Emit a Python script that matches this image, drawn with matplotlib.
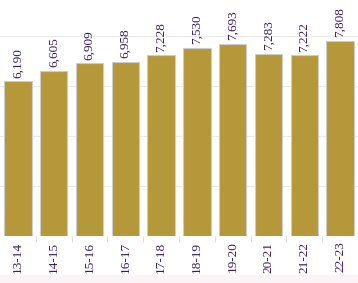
import matplotlib.pyplot as plt
from matplotlib.patches import Rectangle

# Data
seasons = ["13-14", "14-15", "15-16", "16-17", "17-18",
           "18-19", "19-20", "20-21", "21-22", "22-23"]
values = [6190, 6605, 6909, 6958, 7228, 7530, 7693, 7283, 7222, 7808]

bar_color = "#b5983a"
text_color = "#3b1a6b"

fig = plt.figure(figsize=(3.58, 2.83), dpi=100)
fig.add_artist(Rectangle((0, 0), 1, 8 / 283, transform=fig.transFigure,
                         color="#fbf4f7", zorder=0))
ax = fig.add_axes([0, 1 - 236 / 283, 1, 236 / 283])

x = list(range(len(seasons)))
ax.bar(x, values, width=0.76, color=bar_color, edgecolor="#cccccc",
       linewidth=0.8, zorder=2)

for xi, v in zip(x, values):
    ax.text(xi, v + 150, f"{v:,}", rotation=90, ha="center", va="bottom",
            color=text_color, fontsize=9.5, family="Liberation Serif")

ax.set_xlim(-0.5, len(seasons) - 0.5)
ax.set_ylim(0, 9440)
ax.set_yticks([0, 2000, 4000, 6000, 8000])
ax.yaxis.grid(True, color="#ebebeb", linewidth=0.8, zorder=0)
ax.tick_params(axis="y", left=False, labelleft=False)

ax.set_xticks(x)
ax.set_xticklabels(seasons, rotation=90, color=text_color, fontsize=9.5,
                   family="Liberation Serif")
ax.tick_params(axis="x", length=0, pad=4)
ax.set_xticks([i + 0.5 for i in x[:-1]], minor=True)
ax.tick_params(axis="x", which="minor", length=4, color="#dddddd", width=0.8)

for s in ax.spines.values():
    s.set_visible(False)

fig.savefig("out.png", dpi=100)
